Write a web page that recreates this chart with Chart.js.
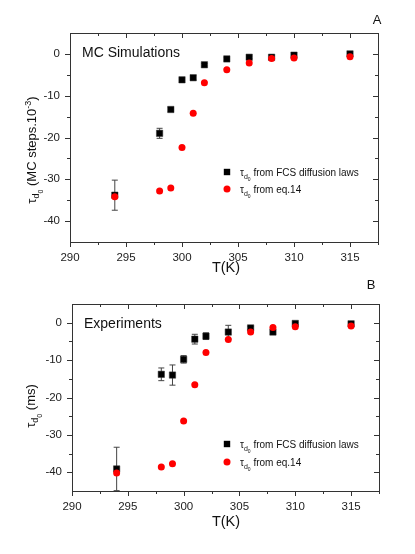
<!DOCTYPE html>
<html>
<head>
<meta charset="utf-8">
<script src="https://cdn.jsdelivr.net/npm/chart.js@4/dist/chart.umd.min.js"></script>
<style>
  body { margin: 0; background: #fff; }
  #wrap { position: relative; width: 415px; height: 554px; }
  canvas { position: absolute; left: 0; }
</style>
</head>
<body>
<div id="wrap">
  <canvas id="chartA" width="415" height="277" style="top:0"></canvas>
  <canvas id="chartB" width="415" height="277" style="top:277px"></canvas>
</div>
<script>
const temps = [294, 298, 299, 300, 301, 302, 304, 306, 308, 310, 315];

// panel A, MC simulations
const fcsSim    = [-33.8, -19.0, -13.3, -6.2, -5.7, -2.6, -1.2, -0.8, -0.8, -0.3, 0.0];
const fcsSimErr = [3.6, 1.2, 0.5, 0.5, 0.5, 0.3, 0.3, 0.3, 0.5, 0.3, 0.2];
const eqSim     = [-34.2, -32.8, -32.1, -22.4, -14.2, -6.9, -3.8, -2.2, -1.1, -1.0, -0.7];

// panel B, experiments
const fcsExp    = [-39.1, -13.8, -14.0, -9.8, -4.4, -3.6, -2.5, -1.4, -2.5, -0.2, -0.3];
const fcsExpErr = [5.8, 1.7, 2.7, 1.0, 1.3, 0.9, 1.8, 0.4, 0.6, 0.3, 0.3];
const eqExp     = [-40.2, -38.6, -37.7, -26.3, -16.6, -8.0, -4.5, -2.5, -1.3, -1.1, -0.9];

const xTickVals = [290, 295, 300, 305, 310, 315];
const yTickVals = [0, -10, -20, -30, -40];
const legendLabels = ['from FCS diffusion laws', 'from eq.14'];

const FONT = '"Liberation Sans", Arial, sans-serif';

function drawRich(ctx, segs, x, y, center) {
    let total = 0;
    segs.forEach(s => {
        ctx.font = s.size + 'px ' + FONT;
        s.w = ctx.measureText(s.t).width;
        total += s.w;
    });
    let cx = center ? x - total / 2 : x;
    ctx.textAlign = 'left';
    ctx.textBaseline = 'alphabetic';
    segs.forEach(s => {
        ctx.font = s.size + 'px ' + FONT;
        ctx.fillText(s.t, cx, y + (s.dy || 0));
        cx += s.w;
    });
}

function tauSegs(size) {
    return [
        { t: 'τ', size: size },
        { t: 'd', size: Math.round(size * 0.7), dy: size * 0.3 },
        { t: '0', size: Math.round(size * 0.5), dy: size * 0.55 }
    ];
}

function makePanel(id, p) {
    const decor = {
        id: 'decor',
        beforeDatasetsDraw(chart) {
            const ctx = chart.ctx, xs = chart.scales.x, ys = chart.scales.y, a = chart.chartArea;
            ctx.save();
            ctx.beginPath();
            ctx.rect(a.left, a.top, a.right - a.left, a.bottom - a.top);
            ctx.clip();
            ctx.strokeStyle = '#444';
            ctx.lineWidth = 1;
            temps.forEach((t, i) => {
                const px = xs.getPixelForValue(t);
                const y1 = ys.getPixelForValue(p.fcs[i] + p.err[i]);
                const y2 = ys.getPixelForValue(p.fcs[i] - p.err[i]);
                ctx.beginPath();
                ctx.moveTo(px, y1); ctx.lineTo(px, y2);
                ctx.moveTo(px - 3, y1); ctx.lineTo(px + 3, y1);
                ctx.moveTo(px - 3, y2); ctx.lineTo(px + 3, y2);
                ctx.stroke();
            });
            ctx.restore();
        },
        afterDraw(chart) {
            const ctx = chart.ctx, xs = chart.scales.x, ys = chart.scales.y, a = chart.chartArea;
            ctx.save();
            ctx.strokeStyle = '#333';
            ctx.lineWidth = 1;
            ctx.strokeRect(a.left + 0.5, a.top + 0.5, a.right - a.left, a.bottom - a.top);

            // ticks: left/bottom outward, top/right inward
            ctx.beginPath();
            const xMaj = xTickVals.slice();
            const xMin = xTickVals.map(v => v + 2.5);
            const yMin = yTickVals.map(v => v - 5).concat([yTickVals[0] + 5]);
            xMaj.forEach(v => {
                const px = Math.round(xs.getPixelForValue(v)) + 0.5;
                ctx.moveTo(px, a.bottom); ctx.lineTo(px, a.bottom + 5);
                ctx.moveTo(px, a.top); ctx.lineTo(px, a.top + 5);
            });
            xMin.forEach(v => {
                if (v > xs.max) return;
                const px = Math.round(xs.getPixelForValue(v)) + 0.5;
                ctx.moveTo(px, a.bottom); ctx.lineTo(px, a.bottom + 3);
                ctx.moveTo(px, a.top); ctx.lineTo(px, a.top + 3);
            });
            yTickVals.forEach(v => {
                const py = Math.round(ys.getPixelForValue(v)) + 0.5;
                ctx.moveTo(a.left, py); ctx.lineTo(a.left - 5, py);
                ctx.moveTo(a.right, py); ctx.lineTo(a.right - 5, py);
            });
            yMin.forEach(v => {
                if (v <= ys.min || v >= ys.max) return;
                const py = Math.round(ys.getPixelForValue(v)) + 0.5;
                ctx.moveTo(a.left, py); ctx.lineTo(a.left - 3, py);
                ctx.moveTo(a.right, py); ctx.lineTo(a.right - 3, py);
            });
            ctx.stroke();

            ctx.fillStyle = '#111';
            // panel letter
            ctx.font = '13px ' + FONT;
            ctx.textAlign = 'center';
            ctx.textBaseline = 'alphabetic';
            ctx.fillText(p.letter, p.letterX, p.letterY);
            // inset title
            ctx.font = '14px ' + FONT;
            ctx.textAlign = 'left';
            ctx.fillText(p.inset, a.left + 12, a.top + 24);
            // x title
            ctx.font = '14.5px ' + FONT;
            ctx.textAlign = 'center';
            ctx.fillText('T(K)', 226, p.xTitleY);
            // y title
            ctx.save();
            ctx.translate(p.yTitleX, p.yTitleY);
            ctx.rotate(-Math.PI / 2);
            drawRich(ctx, tauSegs(13).concat(p.yUnit), 0, 4.5, true);
            ctx.restore();

            // legend
            const lx = 227;
            p.legendY.forEach((ly, i) => {
                if (i === 0) {
                    ctx.fillStyle = '#000';
                    ctx.fillRect(lx - 3.2, ly - 3.2, 6.4, 6.4);
                } else {
                    ctx.fillStyle = '#f00';
                    ctx.beginPath();
                    ctx.arc(lx, ly, 3.5, 0, Math.PI * 2);
                    ctx.fill();
                }
                ctx.fillStyle = '#111';
                drawRich(ctx, tauSegs(10).concat([{ t: ' ' + legendLabels[i], size: 10 }]), lx + 13, ly + 3.5, false);
            });
            ctx.restore();
        }
    };

    return new Chart(document.getElementById(id), {
        type: 'scatter',
        data: {
            datasets: [
                {
                    label: legendLabels[1],
                    data: temps.map((t, i) => ({ x: t, y: p.eq[i] })),
                    pointStyle: 'circle',
                    pointRadius: 3.5,
                    backgroundColor: '#ff0000',
                    borderColor: '#ff0000',
                    borderWidth: 0,
                    order: 0
                },
                {
                    label: legendLabels[0],
                    data: temps.map((t, i) => ({ x: t, y: p.fcs[i] })),
                    pointStyle: 'rect',
                    pointRadius: 4.5,
                    backgroundColor: '#000',
                    borderColor: '#333',
                    borderWidth: 0.5,
                    order: 1
                }
            ]
        },
        options: {
            responsive: false,
            animation: false,
            events: [],
            layout: { padding: { left: 0, top: p.top, right: 415 - p.right, bottom: 0 } },
            plugins: { legend: { display: false }, tooltip: { enabled: false } },
            scales: {
                x: {
                    type: 'linear',
                    min: 290,
                    max: 317.5,
                    grid: { display: false, drawTicks: false },
                    border: { display: false },
                    afterBuildTicks: s => { s.ticks = xTickVals.map(v => ({ value: v })); },
                    afterFit: s => { s.height = 277 - p.bottom; },
                    ticks: { padding: 9, color: '#222', maxRotation: 0, autoSkip: false,
                             font: { family: FONT, size: 11.5 } }
                },
                y: {
                    type: 'linear',
                    min: -45,
                    max: 5,
                    grid: { display: false, drawTicks: false },
                    border: { display: false },
                    afterBuildTicks: s => { s.ticks = yTickVals.map(v => ({ value: v })); },
                    afterFit: s => { s.width = p.left; },
                    ticks: { padding: 10, color: '#222', autoSkip: false,
                             font: { family: FONT, size: 11.5 } }
                }
            }
        },
        plugins: [decor]
    });
}

makePanel('chartA', {
    fcs: fcsSim, err: fcsSimErr, eq: eqSim,
    top: 33, bottom: 242, left: 70, right: 378,
    letter: 'A', letterX: 377, letterY: 24,
    inset: 'MC Simulations',
    xTitleY: 272,
    yTitleX: 31, yTitleY: 150,
    yUnit: [{ t: ' (MC steps.10', size: 13 }, { t: '-3', size: 9, dy: -5 }, { t: ')', size: 13 }],
    legendY: [172, 189]
});

makePanel('chartB', {
    fcs: fcsExp, err: fcsExpErr, eq: eqExp,
    top: 27, bottom: 214, left: 72, right: 379,
    letter: 'B', letterX: 371, letterY: 12,
    inset: 'Experiments',
    xTitleY: 249,
    yTitleX: 30, yTitleY: 129,
    yUnit: [{ t: ' (ms)', size: 13 }],
    legendY: [167, 185]
});
</script>
</body>
</html>
